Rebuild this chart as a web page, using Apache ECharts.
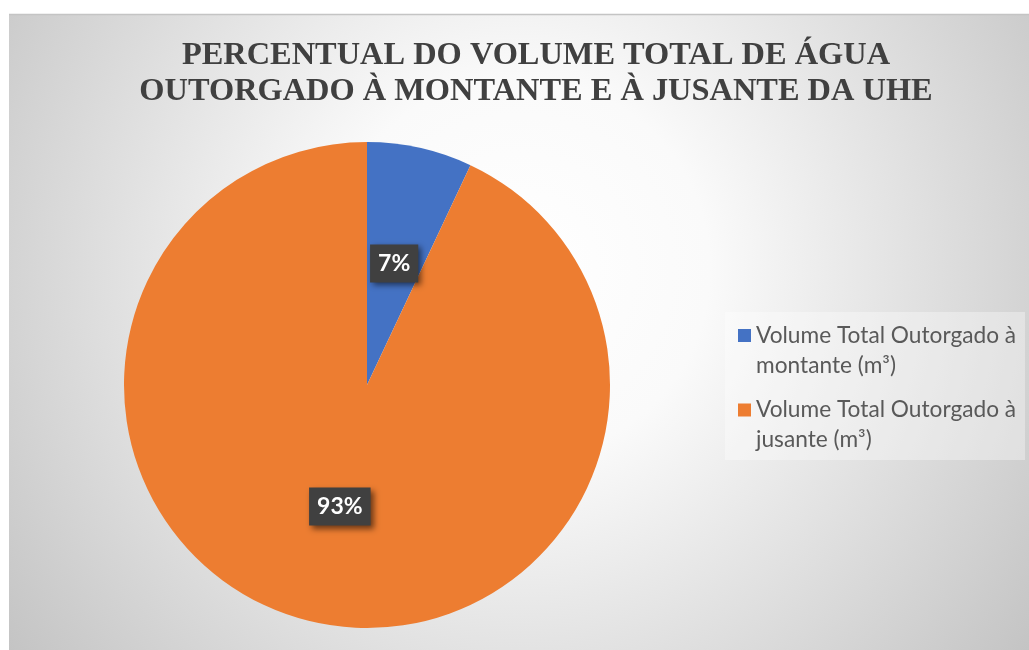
<!DOCTYPE html>
<html>
<head>
<meta charset="utf-8">
<script src="https://cdn.jsdelivr.net/npm/echarts@6/dist/echarts.min.js"></script>
<style>
html,body{margin:0;padding:0;background:#fff;}
#chart{width:1029px;height:650px;}
</style>
</head>
<body>
<div id="chart"></div>
<script>
const titleLines = ['PERCENTUAL DO VOLUME TOTAL DE ÁGUA', 'OUTORGADO À MONTANTE E À JUSANTE DA UHE'];
const categories = ['Volume Total Outorgado à montante (m³)', 'Volume Total Outorgado à jusante (m³)'];
const values = [7, 93];
const colors = ['#4472C4', '#ED7D31'];

const legendTops = [290.5, 365];
function makeLegend(i) {
  return {
    orient: 'vertical',
    left: 738, top: legendTops[i],
    padding: 0,
    icon: 'rect',
    itemWidth: 13, itemHeight: 13,
    data: [categories[i]],
    selectedMode: false,
    formatter: function (n) { return '\n' + n.replace('à ', 'à\n'); },
    textStyle: {
      fontFamily: 'Lato', fontSize: 22.7, lineHeight: 30, color: '#595959'
    }
  };
}

const chart = echarts.init(document.getElementById('chart'));
const option = {
  animation: false,
  graphic: [
    {
      type: 'rect', z: -10,
      shape: {x: 9, y: 14, width: 1020, height: 636},
      style: {
        fill: new echarts.graphic.RadialGradient(0.5, 0.4, 1.0, [
          {offset: 0, color: '#ffffff'},
          {offset: 0.3, color: '#fafafa'},
          {offset: 1, color: '#c4c4c4'}
        ])
      }
    },
    {
      type: 'line', z: -9,
      shape: {x1: 9, y1: 14.5, x2: 1029, y2: 14.5},
      style: {stroke: '#c4c4c4', lineWidth: 1.5}
    },
    {
      type: 'rect', z: -8,
      shape: {x: 725, y: 312, width: 300, height: 148},
      style: {fill: 'rgba(255,255,255,0.35)'}
    }
  ],
  title: {
    text: titleLines.join('\n'),
    left: 531, top: 33, textAlign: 'center',
    textStyle: {
      fontFamily: 'Liberation Serif', fontWeight: 'bold',
      fontSize: 32.4, lineHeight: 36, color: '#404040'
    }
  },
  legend: [makeLegend(0), makeLegend(1)],
  series: [{
    type: 'pie',
    center: [367, 385],
    radius: 243,
    startAngle: 90,
    clockwise: true,
    data: categories.map((c, i) => ({name: c, value: values[i], itemStyle: {color: colors[i]}})),
    label: {
      show: true,
      position: 'inside',
      formatter: function (p) { return Math.round(p.percent) + '%'; },
      color: '#ffffff',
      fontFamily: 'Lato', fontWeight: 'bold', fontSize: 23, lineHeight: 24,
      backgroundColor: '#404040',
      padding: [7, 8],
      shadowColor: 'rgba(0,0,0,0.55)', shadowBlur: 6, shadowOffsetX: 3, shadowOffsetY: 3
    },
    labelLine: {show: false},
    emphasis: {disabled: true}
  }]
};
chart.setOption(option);
</script>
</body>
</html>
